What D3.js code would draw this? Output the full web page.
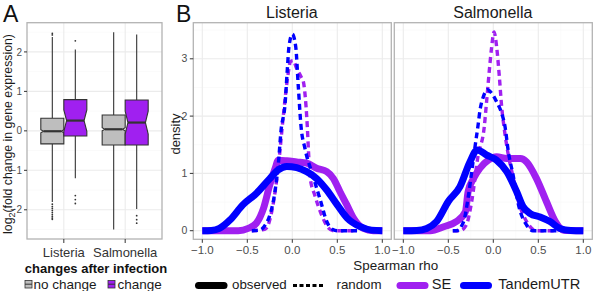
<!DOCTYPE html>
<html>
<head>
<meta charset="utf-8">
<script src="https://cdn.jsdelivr.net/npm/d3@7"></script>
<style>
  body { margin: 0; background: #fff; }
  text { font-family: 'Liberation Sans', Arial, Helvetica, sans-serif; }
</style>
</head>
<body>
<div class="container"></div>
<script>
// ---- data: panel A (boxplots of log2 fold change) ----
var infections = ["Listeria", "Salmonella"];
var changeGroups = ["no change", "change"];
var groupColors = ["#BEBEBE", "#A020F0"];
var boxInfection = ["Listeria", "Listeria", "Salmonella", "Salmonella"];
var boxGroup = ["no change", "change", "no change", "change"];
var boxLow = [-1.80, -1.20, -2.50, -1.98];
var boxQ1 = [-0.33, -0.13, -0.36, -0.36];
var boxMed = [-0.01, 0.26, 0.04, 0.21];
var boxQ3 = [0.32, 0.79, 0.40, 0.78];
var boxHigh = [2.38, 2.06, 2.50, 2.44];
var boxNotch = [0.04, 0.27, 0.04, 0.29];
var boxOutliers = [
  [2.43, 2.47, -1.86, -1.92, -1.97, -2.02, -2.07, -2.12, -2.17, -2.21, -2.24],
  [2.28, -1.64, -1.74, -1.84],
  [],
  [-2.15, -2.25, -2.34]
];
var yTicksA = [-2, -1, 0, 1, 2];

// ---- data: panel B (density of Spearman rho) ----
var listeriaObsSE = [[-1.0,0],[-0.6,0],[-0.49,0.04],[-0.4,0.13],[-0.32,0.39],[-0.25,0.8],[-0.19,1.09],[-0.156,1.23],[-0.062,1.22],[0.049,1.2],[0.16,1.18],[0.27,1.09],[0.383,1.03],[0.457,0.91],[0.53,0.68],[0.606,0.45],[0.68,0.22],[0.79,0.04],[0.9,0],[1.0,0]];
var listeriaObsTU = [[-1.0,0],[-0.9,0.005],[-0.81,0.04],[-0.69,0.19],[-0.55,0.45],[-0.4,0.65],[-0.25,0.91],[-0.156,1.06],[-0.062,1.12],[0.049,1.1],[0.16,1.03],[0.27,0.91],[0.383,0.71],[0.5,0.45],[0.61,0.22],[0.755,0.07],[0.88,0.01],[1.0,0]];
var listeriaRandSE = [[-0.45,0],[-0.3,0.03],[-0.22,0.4],[-0.15,1.2],[-0.1,2.0],[-0.05,2.7],[-0.02,2.95],[0.01,2.97],[0.049,2.83],[0.1,2.68],[0.123,2.6],[0.153,2.16],[0.167,1.81],[0.18,1.38],[0.2,0.91],[0.25,0.62],[0.327,0.27],[0.4,0.05],[0.46,0],[0.72,0]];
var listeriaRandTU = [[-0.45,0],[-0.36,0.01],[-0.3,0.1],[-0.25,0.27],[-0.193,0.68],[-0.156,1.15],[-0.125,1.75],[-0.08,2.22],[-0.056,2.8],[-0.037,3.21],[0,3.43],[0.038,3.21],[0.067,2.51],[0.097,1.82],[0.14,1.44],[0.227,0.97],[0.316,0.51],[0.383,0.16],[0.45,0.02],[0.5,0],[0.72,0]];
var salmonellaObsSE = [[-1.0,0],[-0.7,0],[-0.55,0.07],[-0.41,0.16],[-0.31,0.33],[-0.28,0.68],[-0.22,0.91],[-0.148,1.09],[-0.056,1.23],[0.037,1.29],[0.15,1.26],[0.3,1.26],[0.37,1.2],[0.48,0.91],[0.59,0.51],[0.69,0.16],[0.78,0.01],[1.0,0]];
var salmonellaObsTU = [[-1.0,0],[-0.85,0.005],[-0.74,0.04],[-0.63,0.16],[-0.5,0.51],[-0.37,0.77],[-0.26,1.2],[-0.18,1.41],[-0.073,1.32],[0.037,1.23],[0.15,1.03],[0.26,0.68],[0.33,0.42],[0.41,0.3],[0.52,0.24],[0.63,0.16],[0.74,0.04],[0.86,0.005],[1.0,0]];
var salmonellaRandSE = [[-0.45,0],[-0.37,0],[-0.3,0.1],[-0.24,0.51],[-0.17,1.3],[-0.1,1.82],[-0.073,2.28],[-0.044,2.8],[-0.018,3.21],[0.008,3.47],[0.037,3.21],[0.067,2.69],[0.093,2.16],[0.12,1.8],[0.167,1.32],[0.215,0.97],[0.28,0.51],[0.37,0.16],[0.48,0],[0.72,0]];
var salmonellaRandTU = [[-0.45,0],[-0.41,0],[-0.33,0.16],[-0.28,0.57],[-0.24,1.03],[-0.2,1.5],[-0.17,1.83],[-0.148,2.1],[-0.11,2.34],[-0.067,2.46],[-0.018,2.4],[0.037,2.25],[0.093,2.05],[0.13,1.82],[0.167,1.38],[0.22,0.97],[0.28,0.45],[0.37,0.1],[0.44,0],[0.72,0]];
var xTicksB = [-1, -0.5, 0, 0.5, 1];
var yTicksB = [0, 1, 2, 3];
var seriesNames = ["SE", "TandemUTR"];
var seriesColors = ["#A020F0", "#0000FF"];
var typeNames = ["observed", "random"];

var w = 594, h = 291;
var svg = d3.select(".container").append("svg")
  .attr("width", w).attr("height", h);

var gridMajor = "#EBEBEB", gridMinor = "#F6F6F6", borderCol = "#B3B3B3";
var tickTxt = "#4D4D4D", tickCol = "#333333";
var fmt = function (v) { return d3.format(".1f")(v).replace("-", "\u2212"); };

// ================= panel A =================
var aLeft = 27, aRight = 162, aTop = 22.7, aBottom = 239;
var xA = d3.scaleLinear().domain([0.4, 2.6]).range([aLeft, aRight]);
var yA = d3.scaleLinear().domain([-2.74, 2.74]).range([aBottom, aTop]);
var gA = svg.append("g").attr("class", "panelA");

// grid
d3.range(-2.5, 3, 1).forEach(function (v) {
  gA.append("line").attr("x1", aLeft).attr("x2", aRight).attr("y1", yA(v)).attr("y2", yA(v))
    .attr("stroke", gridMinor).attr("stroke-width", 0.6);
});
yTicksA.forEach(function (v) {
  gA.append("line").attr("x1", aLeft).attr("x2", aRight).attr("y1", yA(v)).attr("y2", yA(v))
    .attr("stroke", gridMajor).attr("stroke-width", 1.1);
});
infections.forEach(function (c, i) {
  gA.append("line").attr("x1", xA(i + 1)).attr("x2", xA(i + 1)).attr("y1", aTop).attr("y2", aBottom)
    .attr("stroke", gridMajor).attr("stroke-width", 1.1);
});

// boxes
var boxW = 0.375;
boxInfection.forEach(function (inf, i) {
  var gi = changeGroups.indexOf(boxGroup[i]);
  var cx = infections.indexOf(inf) + 1 + (gi === 0 ? -boxW / 2 : boxW / 2);
  var x0 = xA(cx - boxW / 2), x1 = xA(cx + boxW / 2), xm = xA(cx);
  var ind = (x1 - x0) * 0.12;
  var col = groupColors[gi];
  // whiskers
  gA.append("line").attr("x1", xm).attr("x2", xm).attr("y1", yA(boxQ3[i])).attr("y2", yA(boxHigh[i]))
    .attr("stroke", tickCol).attr("stroke-width", 1.1);
  gA.append("line").attr("x1", xm).attr("x2", xm).attr("y1", yA(boxQ1[i])).attr("y2", yA(boxLow[i]))
    .attr("stroke", tickCol).attr("stroke-width", 1.1);
  // outliers
  boxOutliers[i].forEach(function (o) {
    gA.append("circle").attr("cx", xm).attr("cy", yA(o)).attr("r", 0.9).attr("fill", tickCol);
  });
  // notched box
  var nu = yA(boxMed[i] + boxNotch[i]), nl = yA(boxMed[i] - boxNotch[i]), md = yA(boxMed[i]);
  var pts = [[x0, yA(boxQ3[i])], [x0, nu], [x0 + ind, md], [x0, nl], [x0, yA(boxQ1[i])],
             [x1, yA(boxQ1[i])], [x1, nl], [x1 - ind, md], [x1, nu], [x1, yA(boxQ3[i])]];
  gA.append("path").attr("d", d3.line()(pts) + "Z")
    .attr("fill", col).attr("stroke", tickCol).attr("stroke-width", 1.1);
  gA.append("line").attr("x1", x0 + ind).attr("x2", x1 - ind).attr("y1", md).attr("y2", md)
    .attr("stroke", tickCol).attr("stroke-width", 2.2);
});

gA.append("rect").attr("x", aLeft).attr("y", aTop).attr("width", aRight - aLeft).attr("height", aBottom - aTop)
  .attr("fill", "none").attr("stroke", borderCol).attr("stroke-width", 1.3);

// axes A
yTicksA.forEach(function (v) {
  gA.append("line").attr("x1", aLeft - 3).attr("x2", aLeft).attr("y1", yA(v)).attr("y2", yA(v))
    .attr("stroke", tickCol).attr("stroke-width", 1);
  gA.append("text").attr("x", aLeft - 5).attr("y", yA(v) + 3.6).attr("text-anchor", "end")
    .attr("font-size", 10).attr("fill", tickTxt).text(String(v).replace("-", "\u2212"));
});
infections.forEach(function (c, i) {
  gA.append("line").attr("x1", xA(i + 1)).attr("x2", xA(i + 1)).attr("y1", aBottom).attr("y2", aBottom + 4)
    .attr("stroke", tickCol).attr("stroke-width", 1);
  gA.append("text").attr("x", xA(i + 1)).attr("y", 256.5).attr("text-anchor", "middle")
    .attr("font-size", 13).attr("fill", "#333").text(c);
});
var yTitleA = gA.append("text").attr("transform", "translate(11.5,134) rotate(-90)")
  .attr("text-anchor", "middle").attr("font-size", 12.3).attr("fill", "#1a1a1a");
yTitleA.append("tspan").text("log");
yTitleA.append("tspan").attr("font-size", 9).attr("dy", 3).text("2");
yTitleA.append("tspan").attr("dy", -3).text("(fold change in gene expression)");

// legend A
gA.append("text").attr("x", 96).attr("y", 273.3).attr("text-anchor", "middle")
  .attr("font-size", 13).attr("font-weight", "bold").attr("fill", "#111").text("changes after infection");
var legAx = [25, 108], legAtx = [33.5, 117.5];
changeGroups.forEach(function (g, i) {
  gA.append("rect").attr("x", legAx[i]).attr("y", 280.5).attr("width", 7).attr("height", 7.5)
    .attr("fill", groupColors[i]).attr("stroke", tickCol).attr("stroke-width", 0.8);
  gA.append("line").attr("x1", legAx[i]).attr("x2", legAx[i] + 7).attr("y1", 284.2).attr("y2", 284.2)
    .attr("stroke", tickCol).attr("stroke-width", 1);
  gA.append("text").attr("x", legAtx[i]).attr("y", 288.8).attr("font-size", 13.5)
    .attr("fill", "#1a1a1a").text(g);
});

svg.append("text").attr("x", 3).attr("y", 21.7).attr("font-size", 23).attr("fill", "#111").text("A");
svg.append("text").attr("x", 176).attr("y", 21.7).attr("font-size", 23).attr("fill", "#111").text("B");

// ================= panel B =================
var bTop = 22.7, bBottom = 239.3;
var facetLeft = [193.3, 394.3], facetW = 198;
var yB = d3.scaleLinear().domain([-0.15, 3.63]).range([bBottom, bTop]);
var facetData = [
  [listeriaObsSE, listeriaRandSE, listeriaObsTU, listeriaRandTU],
  [salmonellaObsSE, salmonellaRandSE, salmonellaObsTU, salmonellaRandTU]
];
var drawSeries = [0, 0, 1, 1];   // colour index for each of the four curves
var drawType = [0, 1, 0, 1];     // observed / random

infections.forEach(function (inf, f) {
  var xB = d3.scaleLinear().domain([-1.1, 1.1]).range([facetLeft[f], facetLeft[f] + facetW]);
  var g = svg.append("g").attr("class", "facet");
  d3.range(-0.75, 1, 0.5).forEach(function (v) {
    g.append("line").attr("x1", xB(v)).attr("x2", xB(v)).attr("y1", bTop).attr("y2", bBottom)
      .attr("stroke", gridMinor).attr("stroke-width", 0.6);
  });
  d3.range(0.5, 3.6, 1).forEach(function (v) {
    g.append("line").attr("x1", xB.range()[0]).attr("x2", xB.range()[1]).attr("y1", yB(v)).attr("y2", yB(v))
      .attr("stroke", gridMinor).attr("stroke-width", 0.6);
  });
  xTicksB.forEach(function (v) {
    g.append("line").attr("x1", xB(v)).attr("x2", xB(v)).attr("y1", bTop).attr("y2", bBottom)
      .attr("stroke", gridMajor).attr("stroke-width", 1.1);
  });
  yTicksB.forEach(function (v) {
    g.append("line").attr("x1", xB.range()[0]).attr("x2", xB.range()[1]).attr("y1", yB(v)).attr("y2", yB(v))
      .attr("stroke", gridMajor).attr("stroke-width", 1.1);
  });

  var line = d3.line().x(function (d) { return xB(d[0]); }).y(function (d) { return yB(d[1]); })
    .curve(d3.curveMonotoneX);
  facetData[f].forEach(function (data, k) {
    var p = g.append("path").attr("d", line(data)).attr("fill", "none")
      .attr("stroke", seriesColors[drawSeries[k]]).attr("stroke-linejoin", "round");
    if (drawType[k] === 0) p.attr("stroke-width", 7);
    else p.attr("stroke-width", 3.4).attr("stroke-dasharray", "6,4");
  });

  g.append("rect").attr("x", facetLeft[f]).attr("y", bTop).attr("width", facetW).attr("height", bBottom - bTop)
    .attr("fill", "none").attr("stroke", borderCol).attr("stroke-width", 1.3);

  // strip title
  g.append("text").attr("x", facetLeft[f] + facetW / 2 - 0.5).attr("y", 18.3).attr("text-anchor", "middle")
    .attr("font-size", 16).attr("fill", "#1a1a1a").text(inf);

  // x axis
  xTicksB.forEach(function (v) {
    g.append("line").attr("x1", xB(v)).attr("x2", xB(v)).attr("y1", bBottom).attr("y2", bBottom + 3.5)
      .attr("stroke", tickCol).attr("stroke-width", 1);
    g.append("text").attr("x", xB(v)).attr("y", 254).attr("text-anchor", "middle")
      .attr("font-size", 11.5).attr("fill", tickTxt).text(fmt(v));
  });
  if (f === 0) {
    yTicksB.forEach(function (v) {
      g.append("line").attr("x1", facetLeft[0] - 3.5).attr("x2", facetLeft[0]).attr("y1", yB(v)).attr("y2", yB(v))
        .attr("stroke", tickCol).attr("stroke-width", 1);
      g.append("text").attr("x", facetLeft[0] - 6).attr("y", yB(v) + 3.6).attr("text-anchor", "end")
        .attr("font-size", 10.5).attr("fill", tickTxt).text(v);
    });
  }
});

svg.append("text").attr("transform", "translate(180,134) rotate(-90)").attr("text-anchor", "middle")
  .attr("font-size", 13).attr("fill", "#1a1a1a").text("density");
svg.append("text").attr("x", 395.8).attr("y", 270).attr("text-anchor", "middle")
  .attr("font-size", 13.4).attr("fill", "#1a1a1a").text("Spearman rho");

// legend B: line types
var keyY = 285.5;
var typeKeyX = [198.5, 293], typeTextX = [232, 336.5];
typeNames.forEach(function (t, i) {
  var k = svg.append("line").attr("x1", typeKeyX[i]).attr("x2", typeKeyX[i] + (i === 0 ? 25.5 : 30))
    .attr("y1", keyY).attr("y2", keyY).attr("stroke", "#000");
  if (i === 0) k.attr("stroke-width", 7).attr("stroke-linecap", "round");
  else k.attr("stroke-width", 3).attr("stroke-dasharray", "4,2.5");
  svg.append("text").attr("x", typeTextX[i]).attr("y", 288.5).attr("font-size", 13.3)
    .attr("fill", "#1a1a1a").text(t);
});
// legend B: colours
var colKeyX = [400, 463.5], colTextX = [431.7, 498.3];
seriesNames.forEach(function (s, i) {
  svg.append("line").attr("x1", colKeyX[i]).attr("x2", colKeyX[i] + 25).attr("y1", keyY).attr("y2", keyY)
    .attr("stroke", seriesColors[i]).attr("stroke-width", 7).attr("stroke-linecap", "round");
  svg.append("text").attr("x", colTextX[i]).attr("y", 289).attr("font-size", 14.6)
    .attr("fill", "#1a1a1a").text(s);
});
</script>
</body>
</html>
